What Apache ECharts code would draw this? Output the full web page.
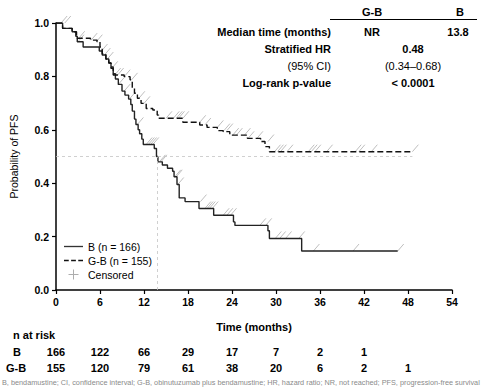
<!DOCTYPE html>
<html><head><meta charset="utf-8">
<script src="https://cdn.jsdelivr.net/npm/echarts@6/dist/echarts.min.js"></script>
<style>html,body{margin:0;padding:0;background:#fff}#c{width:483px;height:392px}</style>
</head><body><div id="c"></div>
<script>
// Kaplan-Meier steps: [time (months), survival after step]
const curveB = [[0,1.0],[0.9,0.98],[2.2,0.967],[2.7,0.95],[2.9,0.93],[3.7,0.91],[5.9,0.895],[6.3,0.88],[6.8,0.865],[7.2,0.85],[7.5,0.835],[7.8,0.81],[8.1,0.79],[8.5,0.77],[9.0,0.745],[9.4,0.73],[9.9,0.715],[10.2,0.695],[10.4,0.67],[10.7,0.64],[10.9,0.62],[11.2,0.60],[11.4,0.585],[11.7,0.565],[11.9,0.545],[13.4,0.53],[13.7,0.50],[13.9,0.48],[14.5,0.468],[15.2,0.456],[15.9,0.445],[16.1,0.424],[16.5,0.395],[16.8,0.345],[17.6,0.331],[19.5,0.305],[21.5,0.28],[24.2,0.255],[24.4,0.242],[28.9,0.222],[29.1,0.193],[33.5,0.146],[46.6,0.146]];
const curveGB = [[0,1.0],[0.9,0.98],[2.2,0.967],[2.8,0.943],[4.7,0.936],[5.6,0.93],[6.0,0.91],[6.3,0.885],[6.8,0.865],[7.2,0.85],[7.5,0.83],[7.8,0.805],[9.3,0.799],[10.1,0.787],[10.4,0.756],[10.7,0.737],[11.1,0.718],[11.6,0.699],[12.3,0.68],[13.2,0.674],[13.8,0.655],[14.0,0.643],[17.3,0.628],[19.6,0.618],[20.6,0.609],[22.0,0.597],[22.8,0.593],[23.7,0.58],[26.1,0.568],[27.9,0.556],[28.5,0.537],[29.1,0.518],[48.6,0.518]];
const censorB = [[0.7,1.0],[3.0,0.93],[6.2,0.895],[6.6,0.88],[7.0,0.865],[8.5,0.77],[9.3,0.745],[10.0,0.715],[11.1,0.62],[12.3,0.545],[12.6,0.545],[12.9,0.545],[13.2,0.545],[14.1,0.48],[14.3,0.48],[16.2,0.424],[16.4,0.424],[16.6,0.395],[19.7,0.331],[20.3,0.305],[20.6,0.305],[20.9,0.305],[21.3,0.305],[22.8,0.28],[23.3,0.28],[23.8,0.28],[27.8,0.242],[28.6,0.242],[29.9,0.193],[30.5,0.193],[31.3,0.193],[33.1,0.193],[35.1,0.146],[40.5,0.146],[46.6,0.146]];
const censorGB = [[1.2,1.0],[3.1,0.943],[4.8,0.936],[5.5,0.93],[7.6,0.83],[8.0,0.805],[8.4,0.805],[9.3,0.799],[10.3,0.787],[11.3,0.718],[12.0,0.699],[15.0,0.643],[16.0,0.643],[16.4,0.643],[16.7,0.643],[17.3,0.643],[19.6,0.628],[20.3,0.618],[22.0,0.609],[22.9,0.597],[23.3,0.597],[24.1,0.58],[24.6,0.58],[25.7,0.58],[26.2,0.568],[27.4,0.568],[28.9,0.556],[29.8,0.518],[30.2,0.518],[30.6,0.518],[31.5,0.518],[34.4,0.518],[34.8,0.518],[35.3,0.518],[36.9,0.518],[40.8,0.518],[41.3,0.518],[43.0,0.518],[48.6,0.518]];
const medianB = 13.8;
const riskTimes = [0,6,12,18,24,30,36,42,48];
const riskB = [166,122,66,29,17,7,2,1];
const riskGB = [155,120,79,61,38,20,6,2,1];
const tableRows = [
  ['Median time (months)', 'NR', '13.8'],
  ['Stratified HR', '0.48'],
  ['(95% CI)', '(0.34\u20130.68)'],
  ['Log-rank p-value', '< 0.0001']
];
const footnote = 'B, bendamustine; CI, confidence interval; G-B, obinutuzumab plus bendamustine; HR, hazard ratio; NR, not reached; PFS, progression-free survival';

const FONT = '"Liberation Sans", Arial, sans-serif';
const chart = echarts.init(document.getElementById('c'), null, {renderer:'svg'});
const slash = 'path://M0,10L10,0';
const censorStyle = {color:'none', borderColor:'#9a9a9a', borderWidth:0.8};
const option = {
  animation:false,
  textStyle:{fontFamily:FONT},
  grid:{left:52, right:31, top:23, bottom:102, containLabel:false},
  xAxis:{type:'value', min:0, max:54, interval:6,
    name:'Time (months)', nameLocation:'middle', nameGap:31,
    nameTextStyle:{fontFamily:FONT, fontWeight:'bold', fontSize:11, color:'#000'},
    axisLine:{lineStyle:{color:'#000', width:1.5}},
    axisTick:{length:4, lineStyle:{color:'#000', width:1.2}},
    axisLabel:{fontFamily:FONT, fontWeight:'bold', fontSize:10.5, color:'#000', margin:6},
    splitLine:{show:false}},
  yAxis:{type:'value', min:0, max:1, interval:0.2,
    name:'Probability of PFS', nameLocation:'middle', nameGap:37,
    nameTextStyle:{fontFamily:FONT, fontSize:10.5, color:'#000'},
    axisLine:{show:true, lineStyle:{color:'#000', width:1.5}},
    axisTick:{show:true, length:4, lineStyle:{color:'#000', width:1.2}},
    axisLabel:{fontFamily:FONT, fontWeight:'bold', fontSize:10.5, color:'#000', margin:7,
      formatter:v=>v.toFixed(1)},
    splitLine:{show:false}},
  legend:{left:59, top:236, orient:'vertical', itemWidth:19, itemHeight:10, itemGap:3,
    textStyle:{fontFamily:FONT, fontSize:10.5, color:'#000'},
    data:[
      {name:'B (n = 166)', icon:'path://M0,4.3h20v1.4h-20z', itemStyle:{color:'#333', borderWidth:0}},
      {name:'G-B (n = 155)', icon:'path://M0,4.3h5v1.4h-5zM7.5,4.3h5v1.4h-5zM15,4.3h5v1.4h-5z', itemStyle:{color:'#111', borderWidth:0}},
      {name:'Censored', icon:'path://M7.1,1h0.8v8h-0.8zM3.5,4.6h8v0.8h-8z', itemStyle:{color:'#999', borderWidth:0}}]},
  series:[
    {name:'B (n = 166)', type:'line', step:'end', symbol:'none', data:curveB,
      lineStyle:{color:'#222', width:1.4}, itemStyle:{color:'#222'},
      markLine:{silent:true, symbol:'none', label:{show:false},
        lineStyle:{color:'#c4c4c4', type:[3,3], width:0.8},
        data:[[{coord:[0,0.5]},{coord:[48.6,0.5]}],[{coord:[medianB,0]},{coord:[medianB,0.5]}]]}},
    {name:'G-B (n = 155)', type:'line', step:'end', symbol:'none', data:curveGB,
      lineStyle:{color:'#111', width:1.4, type:[6,3]}, itemStyle:{color:'#111'}},
    {name:'Censored', type:'scatter', symbol:slash, symbolSize:[6,7], symbolOffset:[3,-3.5],
      data:censorB.concat(censorGB), itemStyle:censorStyle, z:1}
  ]
};
chart.setOption(option);

const g = [];
const tx = (text, x, y, opt) => g.push({type:'text', x, y, silent:true,
  style:Object.assign({text, font:'bold 11px '+FONT, fill:'#000', textVerticalAlign:'middle', textAlign:'center'}, opt||{})});
// stats table
tx('G-B', 372, 12); tx('B', 460, 12);
g.push({type:'line', shape:{x1:330, y1:19.5, x2:477, y2:19.5}, style:{stroke:'#000', lineWidth:1.2}, silent:true});
const rowY = [32, 49, 66, 83];
tableRows.forEach((r,i)=>{
  tx(r[0], 331, rowY[i], {textAlign:'right', font:(i===2?'':'bold ')+'11px '+FONT});
  if (r.length===3){ tx(r[1], 372, rowY[i]); tx(r[2], 458, rowY[i]); }
  else tx(r[1], 413, rowY[i], {font:(i===2?'':'bold ')+'11px '+FONT});
});
// risk table
tx('n at risk', 13, 335, {textAlign:'left'});
tx('B', 17, 352); tx('G-B', 16, 368);
riskB.forEach((v,i)=>{ const x = chart.convertToPixel({xAxisIndex:0}, riskTimes[i]); tx(String(v), x, 352); });
riskGB.forEach((v,i)=>{ const x = chart.convertToPixel({xAxisIndex:0}, riskTimes[i]); tx(String(v), x, 368); });
tx(footnote, 2, 382, {textAlign:'left', font:'7.3px '+FONT, fill:'#8a8a8a'});
chart.setOption({graphic:g});
</script></body></html>
